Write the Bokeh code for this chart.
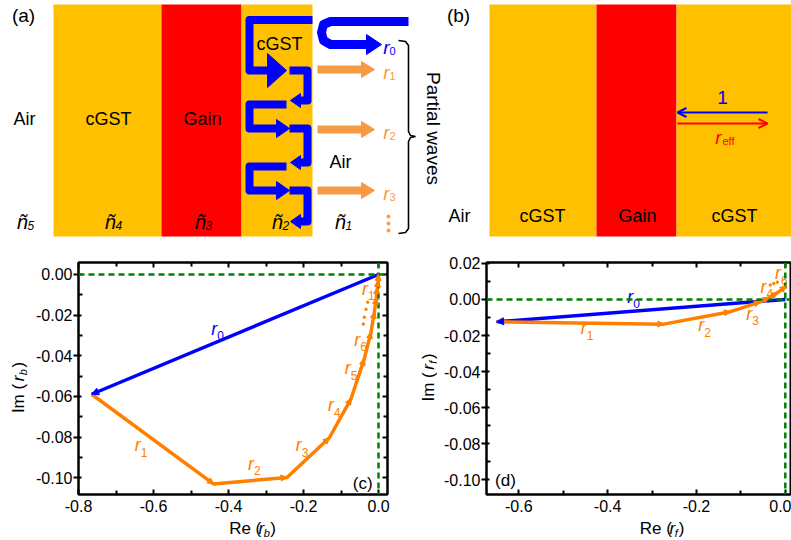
import math
from bokeh.plotting import figure
from bokeh.models import (Range1d, Span, Arrow, NormalHead, OpenHead,
                          ColumnDataSource, FixedTicker, NumeralTickFormatter, LinearAxis)
from bokeh.layouts import column, row
from bokeh.embed import file_html
from bokeh.resources import INLINE
from bokeh.core.properties import value

FONT = "Liberation Sans"
GOLD = "#FFC000"
RED = "#FF0000"
BLUE = "#0000FF"
LORANGE = "#F79A45"
ORANGE = "#FF8000"
GREEN = "#008000"

# ---------------- data: panel (c) ----------------
# cumulative sums: origin, r0, r0+r1, ..., r0+...+r11   (Re, Im of r_b)
c_re = [0.0, -0.765, -0.440, -0.244, -0.131, -0.073, -0.038, -0.020, -0.011, -0.006, -0.003, -0.001, 0.0]
c_im = [0.0, -0.0589, -0.1030, -0.0998, -0.0803, -0.0610, -0.0415, -0.0284, -0.0185, -0.0115, -0.0065, -0.0030, 0.0]
c_lab = ["0", "1", "2", "3", "4", "5", "6", "11"]
c_lab_x = [-0.438, -0.642, -0.340, -0.213, -0.127, -0.082, -0.057, -0.036]
c_lab_y = [-0.0266, -0.084, -0.093, -0.084, -0.0643, -0.0462, -0.032, -0.0069]
c_dot_x = [-0.0288, -0.0333, -0.0379, -0.0405]
c_dot_y = [-0.0136, -0.0171, -0.0210, -0.0244]
c_xticks = [-0.8, -0.6, -0.4, -0.2, 0.0]
c_xminor = [-0.7, -0.5, -0.3, -0.1]
c_yticks = [-0.10, -0.08, -0.06, -0.04, -0.02, 0.00]
c_yminor = [-0.09, -0.07, -0.05, -0.03, -0.01]

# ---------------- data: panel (d) ----------------
d_re = [0.0, -0.650, -0.2735, -0.1235, -0.056, -0.036, -0.017, 0.002]
d_im = [0.0, -0.0124, -0.0137, -0.0068, -0.0013, 0.0010, 0.0038, 0.0074]
d_lab = ["0", "1", "2", "3", "4", "6"]
d_lab_x = [-0.349, -0.454, -0.189, -0.081, -0.049, -0.0165]
d_lab_y = [0.0015, -0.0161, -0.0142, -0.0078, 0.0070, 0.0144]
d_dot_x = [-0.034, -0.026, -0.018]
d_dot_y = [0.0080, 0.0088, 0.0096]
d_xticks = [-0.6, -0.4, -0.2, 0.0]
d_xminor = [-0.5, -0.3, -0.1]
d_yticks = [-0.10, -0.08, -0.06, -0.04, -0.02, 0.00, 0.02]
d_yminor = [-0.09, -0.07, -0.05, -0.03, -0.01, 0.01]

# ---------------- data: schematic (a) ----------------
a_layer_left = [53, 161, 241]
a_layer_right = [161, 241, 312]
a_layer_color = [GOLD, RED, GOLD]
layer_top, layer_bottom = 4, 236
a_text = ["Air", "cGST", "Gain", "cGST", "Air"]
a_text_x = [24, 108, 202, 279, 340]
a_text_y = [118, 118, 118, 43, 161]
a_n_x = [22, 110, 200, 277, 340]
a_n_sub = ["5", "4", "3", "2", "1"]
a_n_y = 221
right_rows = [70, 128, 190]   # blue arrows pointing right (towards cGST/air interface)
left_rows = [100, 162, 221]   # blue arrows pointing left (reflected back)
out_rows = [69, 129, 190]     # orange outgoing partial waves
a_r_y = [47, 72, 132, 193]
a_r_sub = ["0", "1", "2", "3"]
a_r_col = [BLUE, LORANGE, LORANGE, LORANGE]

# ---------------- data: schematic (b) ----------------
b_layer_left = [489, 596, 676]
b_layer_right = [596, 676, 791]
b_layer_color = [GOLD, RED, GOLD]
b_text = ["Air", "cGST", "Gain", "cGST"]
b_text_x = [459, 542, 637, 734]
b_text_y = 215

# Arial advance widths (per 1000 em)
W = {'I': 278, 'm': 833, ' ': 278, '(': 333, ')': 333, 'R': 722, 'e': 556,
     'r': 333, 'b': 556, 'f': 278}


def tw(s, size):
    return sum(W.get(ch, 556) for ch in s) * size / 1000.0


def txt(p, x, y, t, size, color="black", style="normal", align="center", angle=0,
        xo=0, yo=0, baseline="middle"):
    p.text(x=x, y=y, text=t, text_font=value(FONT), text_font_size=f"{size}px",
           text_font_style=style, text_color=color, text_align=align,
           text_baseline=baseline, angle=angle, x_offset=xo, y_offset=yo)


def canvas(width, height, x0, x1, y0, y1):
    p = figure(width=width, height=height, x_range=Range1d(x0, x1), y_range=Range1d(y0, y1),
               x_axis_type=None, y_axis_type=None, toolbar_location=None,
               output_backend="svg", min_border=0)
    p.outline_line_color = None
    p.grid.visible = False
    return p


def comp_text(p, cx, cy, pieces, rotated=False):
    """pieces: (text, size, italic, subscript, gap_after); (cx, cy) = centre of the label"""
    total = sum(tw(t, s) + g for t, s, it, sub, g in pieces)
    cur = -total / 2
    for t, s, it, sub, g in pieces:
        style = "italic" if it else "normal"
        if rotated:
            txt(p, [cx + (4 if sub else 0)], [cy + cur], [t], s, style=style, align="left",
                angle=math.pi / 2)
        else:
            txt(p, [cx + cur], [cy - (4 if sub else 0)], [t], s, style=style, align="left")
        cur += tw(t, s) + g


def axis_title(name, sub):
    return [(name + " (", 17, False, False, 2.5), ("r", 17, True, False, 0.5),
            (sub, 11, True, True, 1.5), (")", 17, False, False, 0)]


def tri_right(tips_x, rows, base_dx, half):
    xs = [[tx, tx - base_dx, tx - base_dx] for tx in tips_x]
    ys = [[r, r - half, r + half] for r in rows]
    return xs, ys


# ================= panel (a) =================
pa = canvas(445, 245, 0, 445, 245, 0)
pa.quad(left=a_layer_left, right=a_layer_right, top=layer_top, bottom=layer_bottom,
        fill_color=a_layer_color, line_color=None)
txt(pa, a_text_x, a_text_y, a_text, 18)
txt(pa, [23], [15], ["(a)"], 19)
txt(pa, a_n_x, [a_n_y] * 5, ["ñ"] * 5, 20, style="italic")
txt(pa, a_n_x, [a_n_y] * 5, a_n_sub, 12, style="italic", align="left", xo=5, yo=4)

BW = 8
# reflected r0 path (U-turn outside)
pa.line(x=[408, 330, 323, 321, 323, 330, 366], y=[21, 21, 24, 32, 40, 44, 44],
        line_color=BLUE, line_width=9, line_join="round")
pa.patch(x=[381, 366, 366], y=[44, 34, 54], fill_color=BLUE, line_color=BLUE)
# transmitted into cGST
pa.line(x=[312, 249, 249, 268], y=[19.5, 19.5, right_rows[0], right_rows[0]],
        line_color=BLUE, line_width=BW, line_join="round")
pa.patch(x=[286, 267, 267], y=[right_rows[0], right_rows[0] - 17, right_rows[0] + 17],
         fill_color=BLUE, line_color=BLUE)
# brackets at cGST/air interface
for a_r, b_r in zip(right_rows, left_rows):
    pa.line(x=[289, 307, 307, 299], y=[a_r, a_r, b_r, b_r], line_color=BLUE,
            line_width=BW, line_join="round")
    pa.patch(x=[290, 300, 300], y=[b_r, b_r - 7, b_r + 7], fill_color=BLUE, line_color=BLUE)
# U-turns at gain/cGST interface
for b_r, a_r in zip(left_rows[:-1], right_rows[1:]):
    pa.line(x=[286, 249, 249, 276], y=[b_r + 4, b_r + 4, a_r, a_r], line_color=BLUE,
            line_width=BW, line_join="round")
    pa.patch(x=[289, 276, 276], y=[a_r, a_r - 9, a_r + 9], fill_color=BLUE, line_color=BLUE)
# orange outgoing waves
pa.multi_line(xs=[[317, 362]] * 3, ys=[[r, r] for r in out_rows], line_color=LORANGE,
              line_width=8)
ox, oy = tri_right([374] * 3, out_rows, 13, 8)
pa.patches(xs=ox, ys=oy, fill_color=LORANGE, line_color=LORANGE)
pa.scatter(x=[388] * 3, y=[216, 223, 230], size=3, color=LORANGE)
txt(pa, [386] * 4, a_r_y, ["r"] * 4, 19, color=a_r_col, style="italic")
txt(pa, [389] * 4, a_r_y, a_r_sub, 11, color=a_r_col, align="left", yo=3)
# brace
pa.line(x=[398, 405, 408, 408, 410, 415, 410, 408, 408, 405, 398],
        y=[40, 41, 45, 131, 135, 136, 137, 141, 228, 232, 233],
        line_color="black", line_width=1.6)
txt(pa, [433], [128], ["Partial waves"], 19, angle=-math.pi / 2)

# ================= panel (b) =================
pb = canvas(346, 245, 445, 791, 245, 0)
pb.quad(left=b_layer_left, right=b_layer_right, top=layer_top, bottom=layer_bottom,
        fill_color=b_layer_color, line_color=None)
txt(pb, b_text_x, [b_text_y] * 4, b_text, 18)
txt(pb, [458], [15], ["(b)"], 19)
pb.add_layout(Arrow(end=OpenHead(size=9, line_color=BLUE, line_width=2),
                    x_start=767, y_start=112, x_end=677, y_end=112,
                    line_color=BLUE, line_width=2))
pb.add_layout(Arrow(end=OpenHead(size=9, line_color=RED, line_width=2),
                    x_start=677, y_start=123, x_end=767, y_end=123,
                    line_color=RED, line_width=2))
txt(pb, [722], [97], ["1"], 19, color=BLUE)
txt(pb, [718], [137], ["r"], 19, color=RED, style="italic")
txt(pb, [722], [137], ["eff"], 11, color=RED, align="left", yo=3)


# ================= panels (c) & (d) =================
def data_panel(width, xr, yr, ml, mr, xt, xm, yt, ym, right_axis=True):
    p = figure(width=width, height=272, x_range=Range1d(*xr), y_range=Range1d(*yr),
               toolbar_location=None, output_backend="svg",
               min_border_left=ml, min_border_right=mr, min_border_top=17,
               min_border_bottom=23)
    p.grid.visible = False
    p.outline_line_color = "black"
    p.outline_line_width = 2
    xtick = FixedTicker(ticks=xt, minor_ticks=xm)
    ytick = FixedTicker(ticks=yt, minor_ticks=ym)
    p.xaxis.ticker = xtick
    p.yaxis.ticker = ytick
    p.xaxis.formatter = NumeralTickFormatter(format="0.0")
    p.yaxis.formatter = NumeralTickFormatter(format="0.00")
    for ax in (p.xaxis[0], p.yaxis[0]):
        ax.axis_line_width = 2
        ax.major_tick_line_width = 2
        ax.minor_tick_line_width = 2
        ax.major_label_text_font = FONT
        ax.major_label_text_font_size = "16px"
        ax.major_label_text_color = "black"
        ax.minor_tick_in = 4
        ax.minor_tick_out = 0
    p.xaxis.major_tick_in = 5
    p.xaxis.major_tick_out = 0
    p.xaxis.major_label_standoff = 5
    p.yaxis.major_tick_in = 3
    p.yaxis.major_tick_out = 5
    p.yaxis.major_label_standoff = 1
    extra = [("above", xtick, xt)]
    if right_axis:
        extra.append(("right", ytick, yt))
    for loc, tk, tv in extra:
        ax = LinearAxis(ticker=tk, major_label_overrides={v: "" for v in tv},
                        major_label_text_font_size="1px", major_label_standoff=0,
                        axis_line_width=2, major_tick_line_width=2, minor_tick_line_width=2,
                        major_tick_in=5, major_tick_out=0, minor_tick_in=4, minor_tick_out=0)
        p.add_layout(ax, loc)
    p.add_layout(Span(location=0, dimension="width", line_color=GREEN, line_width=2.5,
                      line_dash="6 4"))
    p.add_layout(Span(location=0, dimension="height", line_color=GREEN, line_width=2.5,
                      line_dash="6 4"))
    return p


def draw_sums(p, re, im, labs, lx, ly, dx, dy):
    p.line(x=re[:2], y=im[:2], line_color=BLUE, line_width=3.5)
    p.line(x=re[1:], y=im[1:], line_color=ORANGE, line_width=3.5)
    p.add_layout(Arrow(end=NormalHead(size=7, fill_color=BLUE, line_color=BLUE),
                       x_start=re[0], y_start=im[0], x_end=re[1], y_end=im[1],
                       line_alpha=0))
    src = ColumnDataSource(dict(xs=re[1:-1], ys=im[1:-1], xe=re[2:], ye=im[2:]))
    p.add_layout(Arrow(end=NormalHead(size=6, fill_color=ORANGE, line_color=ORANGE),
                       x_start="xs", y_start="ys", x_end="xe", y_end="ye", source=src,
                       line_alpha=0))
    cols = [BLUE] + [ORANGE] * (len(labs) - 1)
    p.text(x=lx, y=ly, text=["r"] * len(lx), text_font=value(FONT), text_font_size="18px",
           text_font_style="italic", text_color=cols, text_align="center",
           text_baseline="middle")
    p.text(x=lx, y=ly, text=labs, text_font=value(FONT), text_font_size="12px",
           text_color=cols, text_align="left", text_baseline="middle", x_offset=3,
           y_offset=7)
    p.scatter(x=dx, y=dy, size=2.5, color=ORANGE)


# panel (c): frame 78..387 x 262..494 on the page
pc = data_panel(365, (-0.8, 0.024), (-0.1082, 0.0059), 48, 8,
                c_xticks, c_xminor, c_yticks, c_yminor)
draw_sums(pc, c_re, c_im, c_lab, c_lab_x, c_lab_y, c_dot_x, c_dot_y)
pc.text(x=[-0.042], y=[-0.1028], text=["(c)"], text_font=value(FONT), text_font_size="17px",
        text_align="center", text_baseline="middle")

# panel (d): frame 486..790 x 262..494 on the page
pd = data_panel(354, (-0.6727, 0.0117), (-0.1082, 0.0205), 49, 1,
                d_xticks, d_xminor, d_yticks, d_yminor, right_axis=False)
draw_sums(pd, d_re, d_im, d_lab, d_lab_x, d_lab_y, d_dot_x, d_dot_y)
pd.text(x=[-0.630], y=[-0.1002], text=["(d)"], text_font=value(FONT), text_font_size="17px",
        text_align="center", text_baseline="middle")

# axis-title strips (page pixel coordinates, y upwards within each strip)
im_c = canvas(30, 295, 0, 30, 0, 295)
comp_text(im_c, 18, 153, axis_title("Im", "b"), rotated=True)
re_c = canvas(365, 23, 30, 395, 0, 23)
comp_text(re_c, 235, 12, axis_title("Re", "b"))
im_d = canvas(42, 295, 395, 437, 0, 295)
comp_text(im_d, 428, 163, axis_title("Im", "f"), rotated=True)
re_d = canvas(354, 23, 437, 791, 0, 23)
comp_text(re_d, 641, 12, axis_title("Re", "f"))

bottom = row(im_c, column(pc, re_c), im_d, column(pd, re_d))
layout = column(row(pa, pb), bottom)
open("out.html", "w").write(file_html(layout, INLINE))
